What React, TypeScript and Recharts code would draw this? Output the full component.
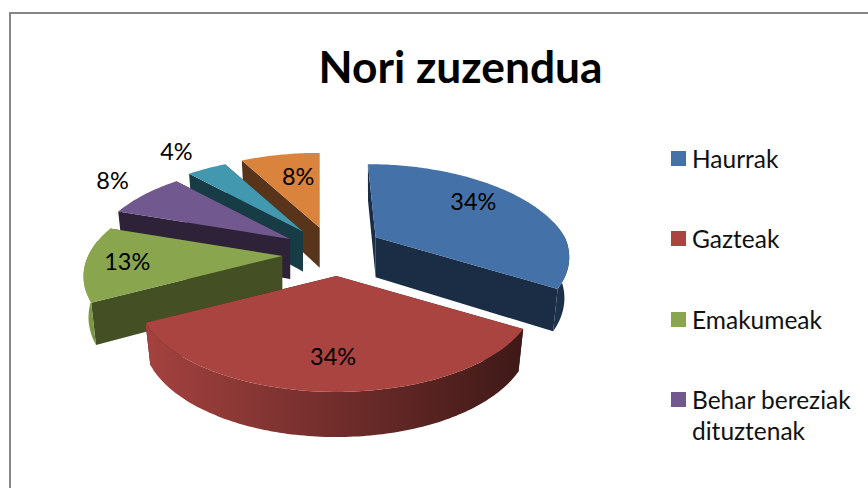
import { Legend, Pie, PieChart } from "recharts";

const TITLE = "Nori zuzendua";
const VALUES = [34, 34, 13, 8, 4, 8];
const LEGEND_NAMES = ["Haurrak", "Gazteak", "Emakumeak", "Behar bereziak dituztenak"];

const TOP_COLORS = ["#4472a8", "#a94441", "#89a54e", "#71588f", "#4198af", "#d9833c"];
const FACE_COLORS = ["#1a2d44", "#431a18", "#445024", "#2e2239", "#183c46", "#57341a"];
const WALL_LEFT = ["#1f3550", "#a4423f", "#86a24b", "#3a2b48", "#1e4a56", "#6b4020"];
const WALL_RIGHT = ["#1a2d44", "#3e1917", "#6d863c", "#2e2239", "#183c46", "#57341a"];

const LABEL_RADIUS = [0.65, 0.74, 0.76, 1.25, 1.35, 0.6];
const LABEL_NUDGE = [[-5, -9], [2, 0], [-6, 0], [0, -5], [-3, 0], [4, -5]];
const SHIFT_X = [0, 6, 0, 0, 0, 0];
const SHIFT_Y = [-2, 1, 3, 1, 0, 0];
const RADIUS_SCALE = [0.975, 1, 1, 1, 1, 1];

const PERSPECTIVE = 0.215;
const FLATTEN = 0.469;
const DEPTH = 40;
const BOTTOM_SHRINK = 0.975;
const EXPLODE_X = 50;
const EXPLODE_Y = 24;

// drawn back to front, so the pie runs counter-clockwise from the last slice
const rows = VALUES.map((value, source) => ({ value, source })).reverse();

const project = (radius: number, deg: number, fraction = 1) => {
    const t = (deg * Math.PI) / 180;
    const z = -fraction * Math.cos(t);
    const s = 1 / (1 - PERSPECTIVE * z);
    return {
        x: radius * fraction * Math.sin(t) * s,
        y: radius * FLATTEN * z * s,
        s,
        depth: DEPTH * Math.sqrt(s),
    };
};

const explode = (cx: number, cy: number, deg: number, source: number) => {
    const t = (deg * Math.PI) / 180;
    return {
        x: cx + SHIFT_X[source] + EXPLODE_X * Math.sin(t),
        y: cy + SHIFT_Y[source] - EXPLODE_Y * Math.cos(t),
    };
};

const toPath = (pts: number[][]) =>
    pts.map((p, i) => `${i ? "L" : "M"}${p[0].toFixed(1)} ${p[1].toFixed(1)}`).join(" ") + " Z";

const Slice3D = (props: any) => {
    const { cx, cy, outerRadius, startAngle, endAngle } = props;
    const source = props.source ?? props.payload?.source ?? 0;
    const from = 90 - Math.max(startAngle, endAngle);
    const to = 90 - Math.min(startAngle, endAngle);
    const a = from < 0 ? from + 360 : from;
    const b = a + (to - from);
    const apex = explode(cx, cy, (a + b) / 2, source);
    const radius = outerRadius * RADIUS_SCALE[source];

    const arc = (lo: number, hi: number) => {
        const out = [];
        const n = Math.max(2, Math.ceil(hi - lo));
        for (let i = 0; i <= n; i++) {
            const p = project(radius, lo + ((hi - lo) * i) / n);
            // the far rim of the right hand slice leans back toward the middle
            const lean = p.s < 1 && apex.x > cx + 10 ? (apex.x - cx) * (p.s - 1) : 0;
            out.push({ x: apex.x + p.x + lean, y: apex.y + p.y, depth: p.depth });
        }
        return out;
    };
    const lowX = (x: number) => apex.x + (x - apex.x) * BOTTOM_SHRINK;

    const rim = arc(a, b);
    const edge = (p: { x: number; y: number; depth: number }) => [
        [apex.x, apex.y],
        [p.x, p.y],
        [lowX(p.x), p.y + p.depth],
        [apex.x, apex.y + DEPTH],
    ];

    const lo = Math.max(a, 80);
    const hi = Math.min(b, 280);
    const wall = hi > lo ? arc(lo, hi) : null;
    const wallPts = wall
        ? [
              ...wall.map((p) => [p.x, p.y]),
              ...[...wall].reverse().map((p) => [lowX(p.x), p.y + p.depth]),
          ]
        : null;
    const gradId = `wall-${source}`;

    return (
        <g>
            <defs>
                <linearGradient id={gradId} x1="0" x2="1" y1="0" y2="0">
                    <stop offset="0%" stopColor={WALL_LEFT[source]} />
                    <stop offset="100%" stopColor={WALL_RIGHT[source]} />
                </linearGradient>
            </defs>
            <path d={toPath(edge(rim[0]))} fill={FACE_COLORS[source]} />
            <path d={toPath(edge(rim[rim.length - 1]))} fill={FACE_COLORS[source]} />
            {wallPts && <path d={toPath(wallPts)} fill={`url(#${gradId})`} />}
            <path
                d={toPath([[apex.x, apex.y], ...rim.map((p) => [p.x, p.y])])}
                fill={TOP_COLORS[source]}
            />
        </g>
    );
};

const renderLabel = (props: any) => {
    const { cx, cy, outerRadius, midAngle, value } = props;
    const source = props.source ?? props.payload?.source ?? 0;
    const deg = 90 - midAngle;
    const apex = explode(cx, cy, deg, source);
    const p = project(outerRadius, deg, LABEL_RADIUS[source]);
    return (
        <text
            key={source}
            x={apex.x + p.x + LABEL_NUDGE[source][0]}
            y={apex.y + p.y + LABEL_NUDGE[source][1]}
            textAnchor="middle"
            dominantBaseline="central"
            fontFamily="Lato"
            fontSize={23.5}
            fill="#000000"
        >
            {value}%
        </text>
    );
};

const renderLegend = () => (
    <div style={{ position: "relative", fontFamily: "Lato", fontSize: 24.5, color: "#111111" }}>
        {LEGEND_NAMES.map((name, i) => (
            <div
                key={name}
                style={{ position: "absolute", left: 0, top: i * 80.4, width: 190, lineHeight: "31px" }}
            >
                <span
                    style={{
                        position: "absolute",
                        left: 0,
                        top: 8,
                        width: 15,
                        height: 15,
                        background: TOP_COLORS[i],
                    }}
                />
                <div style={{ marginLeft: 21 }}>{name}</div>
            </div>
        ))}
    </div>
);

export default function App() {
    return (
        <div
            style={{
                position: "absolute",
                left: 0,
                top: 0,
                width: 868,
                height: 488,
                overflow: "hidden",
                background: "#ffffff",
            }}
        >
            <div
                style={{
                    position: "absolute",
                    left: 9,
                    top: 12,
                    width: 1000,
                    height: 800,
                    border: "2px solid #868686",
                }}
            />
            <div
                style={{
                    position: "absolute",
                    left: 0,
                    top: 36,
                    width: 921,
                    textAlign: "center",
                    fontFamily: "Lato",
                    fontWeight: 700,
                    fontSize: 44.3,
                    lineHeight: "60px",
                    color: "#000000",
                }}
            >
                {TITLE}
            </div>
            <div style={{ position: "absolute", left: 0, top: 0 }}>
                <PieChart width={868} height={488}>
                    <Legend
                        content={renderLegend}
                        wrapperStyle={{ position: "absolute", left: 671, top: 143, width: 197 }}
                    />
                    <Pie
                        data={rows}
                        dataKey="value"
                        cx={327}
                        cy={246}
                        outerRadius={194}
                        startAngle={90}
                        endAngle={450}
                        shape={Slice3D}
                        label={renderLabel}
                        labelLine={false}
                        isAnimationActive={false}
                    />
                </PieChart>
            </div>
        </div>
    );
}
